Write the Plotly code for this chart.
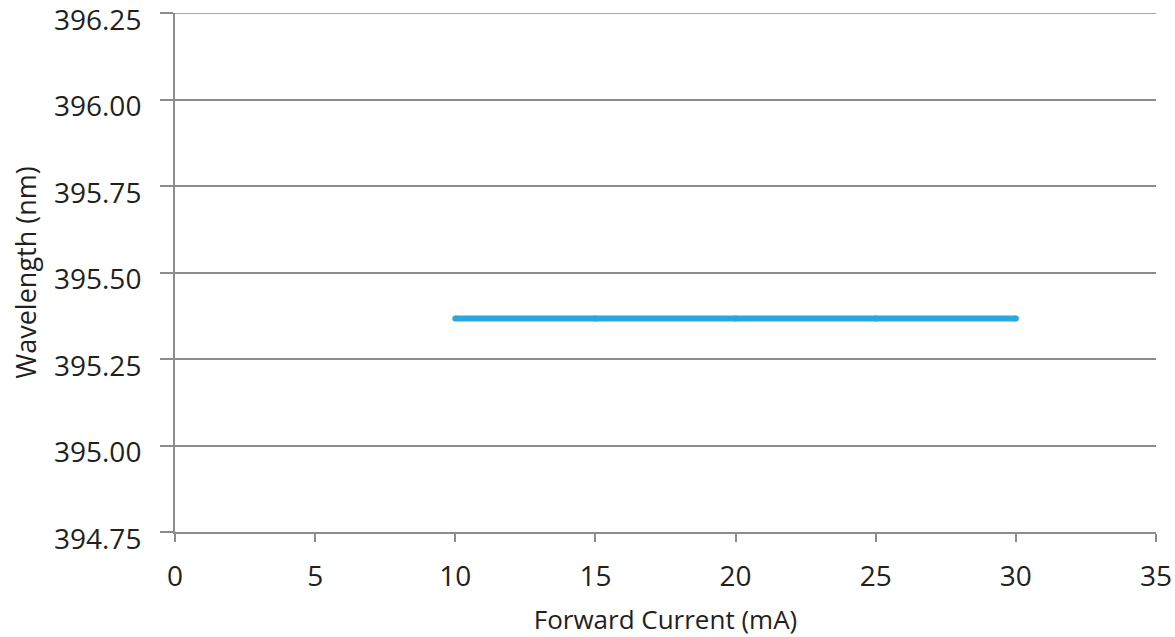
import plotly.graph_objects as go

# Peak wavelength vs forward current
current_ma = [10, 15, 20, 25, 30]
wavelength_nm = [395.367, 395.367, 395.367, 395.367, 395.367]

x_ticks = [0, 5, 10, 15, 20, 25, 30, 35]
y_ticks = [394.75, 395.00, 395.25, 395.50, 395.75, 396.00, 396.25]

axis_grey = "#8c8c8c"
font_family = "Open Sans, Liberation Sans, sans-serif"

fig = go.Figure()
fig.add_trace(go.Scatter(
    x=current_ma,
    y=wavelength_nm,
    mode="lines+markers",
    line=dict(color="#29a8df", width=6),
    marker=dict(color="#29a8df", size=6, line=dict(width=0)),
    showlegend=False,
))

# gridline along the top edge of the plotting area (edge gridlines are clipped by plotly)
fig.add_shape(
    type="line", xref="paper", yref="y",
    x0=0, x1=1, y0=y_ticks[-1], y1=y_ticks[-1],
    line=dict(color=axis_grey, width=1.5),
    layer="below",
)

fig.update_layout(
    width=1175,
    height=637,
    margin=dict(l=175, r=19, t=13, b=105),
    paper_bgcolor="white",
    plot_bgcolor="white",
    font=dict(family=font_family, color="#231f20"),
    xaxis=dict(
        range=[0, 35],
        tickvals=x_ticks,
        ticktext=[str(v) for v in x_ticks],
        showgrid=False,
        zeroline=False,
        showline=True,
        linecolor=axis_grey,
        linewidth=2,
        ticks="outside",
        ticklen=8,
        tickwidth=2,
        tickcolor=axis_grey,
        tickfont=dict(size=28),
        ticklabelstandoff=10,
        automargin=False,
        title=dict(text="Forward Current (mA)", font=dict(size=26), standoff=22),
    ),
    yaxis=dict(
        range=[394.75, 396.25],
        tickvals=y_ticks,
        ticktext=[f"{v:.2f}" for v in y_ticks],
        showgrid=True,
        gridcolor=axis_grey,
        gridwidth=1.5,
        zeroline=False,
        showline=True,
        linecolor=axis_grey,
        linewidth=2,
        ticks="outside",
        ticklen=13,
        tickwidth=1.5,
        tickcolor=axis_grey,
        tickfont=dict(size=28),
        ticklabelstandoff=13,
        ticklabelshift=7,
        ticklabeloverflow="allow",
        automargin=False,
        title=dict(text="Wavelength (nm)", font=dict(size=27), standoff=10),
    ),
)

fig.write_html("out.html")
